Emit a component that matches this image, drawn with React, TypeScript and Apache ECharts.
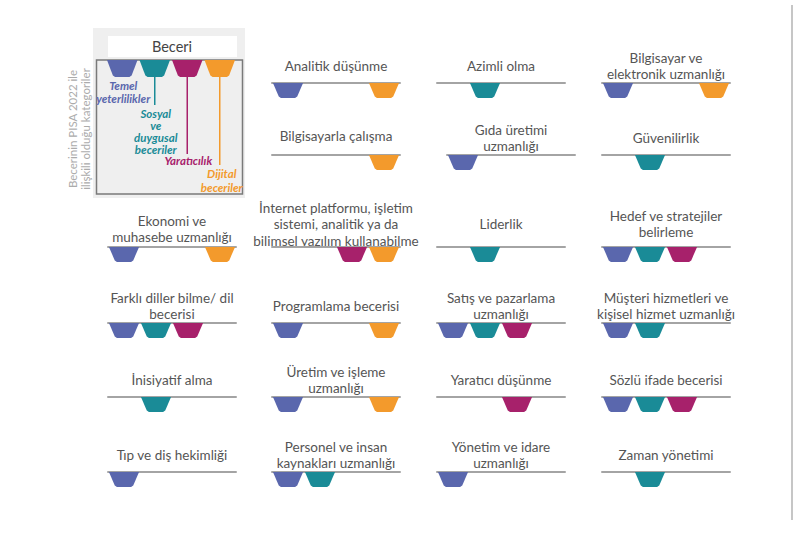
import React, { useEffect, useRef } from "react";
import * as echarts from "echarts";

// ---- Data ----
const categories = ["Temel yeterlilikler", "Sosyal ve duygusal beceriler", "Yaratıcılık", "Dijital beceriler"];
const categoryLegendLabels = ["Temel\nyeterlilikler", "Sosyal\nve\nduygusal\nbeceriler", "Yaratıcılık", "Dijital\nbeceriler"];
const categoryColors = ["#5a67ad", "#1a8b97", "#a7216b", "#f39a2c"];

const skillNames = [
  "Analitik düşünme", "Azimli olma", "Bilgisayar ve\nelektronik uzmanlığı",
  "Bilgisayarla çalışma", "Gıda üretimi\nuzmanlığı", "Güvenilirlik",
  "Ekonomi ve\nmuhasebe uzmanlığı", "İnternet platformu, işletim\nsistemi, analitik ya da\nbilimsel yazılım kullanabilme", "Liderlik", "Hedef ve stratejiler\nbelirleme",
  "Farklı diller bilme/ dil\nbecerisi", "Programlama becerisi", "Satış ve pazarlama\nuzmanlığı", "Müşteri hizmetleri ve\nkişisel hizmet uzmanlığı",
  "İnisiyatif alma", "Üretim ve işleme\nuzmanlığı", "Yaratıcı düşünme", "Sözlü ifade becerisi",
  "Tıp ve diş hekimliği", "Personel ve insan\nkaynakları uzmanlığı", "Yönetim ve idare\nuzmanlığı", "Zaman yönetimi",
];

// 1 = skill linked to category
const temelYeterlilikler = [1, 0, 1, 0, 1, 0, 1, 0, 0, 1, 1, 1, 1, 1, 0, 1, 0, 1, 1, 1, 1, 0];
const sosyalDuygusal = [0, 1, 0, 0, 0, 1, 0, 0, 1, 1, 1, 0, 1, 1, 1, 0, 0, 1, 0, 1, 0, 1];
const yaraticilik = [0, 0, 0, 0, 0, 0, 0, 1, 0, 1, 1, 0, 1, 0, 0, 0, 1, 1, 0, 0, 0, 0];
const dijitalBeceriler = [1, 0, 1, 1, 0, 0, 1, 1, 0, 0, 0, 1, 0, 0, 0, 1, 0, 0, 0, 0, 0, 0];

const legendTitle = "Beceri";
const sideNote = "Becerinin PISA 2022 ile\nilişkili olduğu kategoriler";

// ---- Layout ----
const colX = [108, 272, 437, 602];
const rowY = [83, 155, 247, 323, 397, 472];
const panelW = 128;
const markH = 15;
const FONT = "Lato, 'Noto Sans', sans-serif";

function panelPos(i: number) {
  let row: number, col: number;
  if (i < 6) { row = Math.floor(i / 3); col = (i % 3) + 1; }
  else { row = 2 + Math.floor((i - 6) / 4); col = (i - 6) % 4; }
  let x = colX[col];
  if (row === 1 && col === 2) x += 10;
  let titleOff = 17;
  if (row === 2 && col > 0) titleOff = 23;
  if (row === 2 && col === 0) titleOff = 18;
  if (row === 1 && col === 1) titleOff = 19;
  return { x, y: rowY[row], titleOff };
}

function trapezoid(params: any, api: any) {
  const ci = api.value(0);
  const p0 = api.coord([ci, 0]);
  const p1 = api.coord([ci, 1]);
  const band = api.size([1, 0])[0];
  const cx = p0[0];
  const top = p0[1];
  const bot = p1[1];
  const tw = band * 0.47;
  const bw = band * 0.27;
  const r = 1.6;
  return {
    type: "polygon",
    shape: {
      points: [
        [cx - tw, top], [cx + tw, top],
        [cx + bw + 0.6, bot - r], [cx + bw - r, bot],
        [cx - bw + r, bot], [cx - bw - 0.6, bot - r],
      ],
    },
    style: { fill: api.visual("color") },
  };
}

export default function App() {
  const ref = useRef<HTMLDivElement>(null);
  useEffect(() => {
    if (!ref.current) return;
    const chart = echarts.init(ref.current, undefined, { renderer: "svg" });
    const flags = [temelYeterlilikler, sosyalDuygusal, yaraticilik, dijitalBeceriler];

    const grids: any[] = [];
    const xAxes: any[] = [];
    const yAxes: any[] = [];
    const series: any[] = [];
    const graphics: any[] = [];

    graphics.push({ type: "rect", shape: { x: 93, y: 28, width: 152, height: 170 }, style: { fill: "#efefef" }, z: -10 });
    graphics.push({ type: "rect", shape: { x: 108, y: 36, width: 129, height: 21 }, style: { fill: "#ffffff" }, z: -9 });
    graphics.push({ type: "text", x: 172, y: 46.5, style: { text: legendTitle, fill: "#444", font: `14.5px ${FONT}`, textAlign: "center", textVerticalAlign: "middle" } });
    graphics.push({ type: "rect", shape: { x: 96.5, y: 60, width: 146, height: 134 }, style: { fill: "none", stroke: "#7a7a7a", lineWidth: 1.5 }, z: -8 });
    graphics.push({
      type: "text", x: 79, y: 129, rotation: Math.PI / 2,
      style: { text: sideNote, fill: "#ababab", font: `11.5px ${FONT}`, textAlign: "center", textVerticalAlign: "middle", lineHeight: 13 },
    });

    const lgLeft = 106, lgW = 130, lgTop = 60;
    grids.push({ left: lgLeft, top: lgTop, width: lgW, height: 17 });
    xAxes.push({ gridIndex: 0, type: "category", data: categories, position: "top", axisLine: { show: false }, axisTick: { show: false }, axisLabel: { show: false }, splitLine: { show: false } });
    yAxes.push({ gridIndex: 0, type: "value", min: 0, max: 1, inverse: true, show: false });
    series.push({
      type: "custom", xAxisIndex: 0, yAxisIndex: 0, renderItem: trapezoid,
      data: categories.map((_, ci) => ({ value: [ci, 1], itemStyle: { color: categoryColors[ci] } })),
    });
    const legendLabelY = [91.5, 131, 160.5, 180];
    const legendLineEnd = [0, 105, 154, 165];
    const legendLH = [13, 12, 13, 14];
    categories.forEach((_, ci) => {
      const cx = lgLeft + (lgW / 8) * (2 * ci + 1);
      if (legendLineEnd[ci] > 0) {
        graphics.push({ type: "line", shape: { x1: cx, y1: 77, x2: cx, y2: legendLineEnd[ci] }, style: { stroke: categoryColors[ci], lineWidth: 1.5 } });
      }
      graphics.push({
        type: "text", x: cx + (ci === 3 ? 2 : 1), y: legendLabelY[ci],
        style: {
          text: categoryLegendLabels[ci], fill: categoryColors[ci],
          font: `italic bold 11.5px ${FONT}`, textAlign: "center", textVerticalAlign: "middle", lineHeight: legendLH[ci],
        },
      });
    });

    skillNames.forEach((name, i) => {
      const { x, y, titleOff } = panelPos(i);
      const gi = i + 1;
      grids.push({ left: x, top: y, width: panelW, height: markH });
      xAxes.push({
        gridIndex: gi, type: "category", data: categories, position: "top",
        axisLine: { show: true, lineStyle: { color: "#a4a4a4", width: 2 } },
        axisTick: { show: false }, axisLabel: { show: false }, splitLine: { show: false },
      });
      yAxes.push({ gridIndex: gi, type: "value", min: 0, max: 1, inverse: true, show: false });
      const data: any[] = [];
      flags.forEach((arr, ci) => {
        if (arr[i]) data.push({ value: [ci, 1], itemStyle: { color: categoryColors[ci] } });
      });
      series.push({ type: "custom", xAxisIndex: gi, yAxisIndex: gi, renderItem: trapezoid, data, z: 3 });
      graphics.push({
        type: "text", x: x + panelW / 2, y: y - titleOff,
        style: { text: name, fill: "#555", font: `13.5px ${FONT}`, textAlign: "center", textVerticalAlign: "middle", lineHeight: 16.5 },
      });
    });

    graphics.push({ type: "line", shape: { x1: 792, y1: 5, x2: 792, y2: 520 }, style: { stroke: "#c6c6c6", lineWidth: 2 } });

    chart.setOption({
      animation: false,
      backgroundColor: "#ffffff",
      grid: grids,
      xAxis: xAxes,
      yAxis: yAxes,
      series,
      graphic: graphics,
    });
    return () => chart.dispose();
  }, []);
  return <div ref={ref} style={{ position: "fixed", left: 0, top: 0, width: 800, height: 534 }} />;
}
